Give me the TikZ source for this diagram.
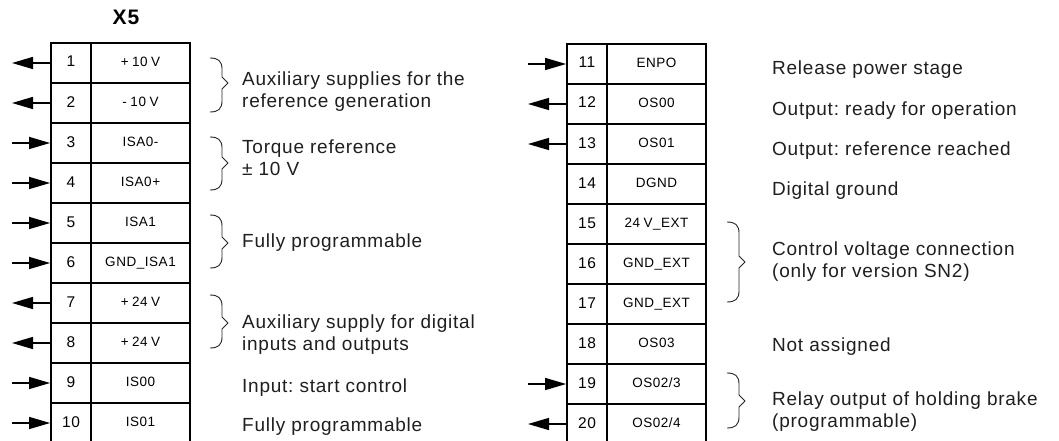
\documentclass[tikz,border=0pt]{standalone}
\usepackage{fontspec}
\setmainfont{Liberation Sans}[LetterSpace=4]
\usetikzlibrary{arrows.meta}
\frenchspacing
\newcommand\gp{\hspace{3.5pt}}
\tikzset{
  cellnum/.style={draw, line width=1.8pt, minimum width=40pt, minimum height=40pt, inner sep=0pt,
    font=\fontsize{15.5}{16}\selectfont, text height=8pt, text depth=0pt},
  cellsig/.style={draw, line width=1.8pt, minimum width=99pt, minimum height=40pt, inner sep=0pt,
    font=\fontsize{13.5}{15}\selectfont, text height=7pt, text depth=0pt},
  pinarrow/.style={line width=1.4pt, -{Triangle[length=21pt,width=12pt]}},
  desc/.style={anchor=base west, inner sep=0pt, font=\fontsize{19}{22}\selectfont\frenchspacing, text=black!88},
  bracestyle/.style={line width=0.9pt, line join=round, draw=black!85},
}
\newcommand\drawbrace[4]{% x, ytop, ytip, ybot
  \draw[bracestyle] (#1,#2) .. controls (#1+8,#2) and (#1+12,#2+3) .. (#1+12,#2+11)
    -- (#1+12,#3-6) -- (#1+18,#3) -- (#1+12,#3+6) -- (#1+12,#4-11)
    .. controls (#1+12,#4-3) and (#1+8,#4) .. (#1,#4);}
\begin{document}
\begin{tikzpicture}[x=1pt,y=-1pt]
\useasboundingbox (0,0) rectangle (1059,441);
\fill[white] (0,0) rectangle (1059,441);

% title
\node[anchor=base, inner sep=0pt, font=\fontsize{21}{22}\selectfont\bfseries] (title) at (126,25) {X5};

% left connector rows
\foreach \i/\s in {1/{+\gp10\gp V}, 2/{-\gp10\gp V}, 3/{ISA0-}, 4/{ISA0+}, 5/{ISA1}, 6/{GND\_ISA1},
                   7/{+\gp24\gp V}, 8/{+\gp24\gp V}, 9/{IS00}, 10/{IS01}} {
  \node[cellnum] (n\i) at (71, 63+40*\i-40) {\i};
  \node[cellsig] (s\i) at (140.5, 63+40*\i-40) {\s};
  \coordinate (e\i) at (12, 63+40*\i-40);
}
% right connector rows
\foreach \i/\s in {11/{ENPO}, 12/{OS00}, 13/{OS01}, 14/{DGND}, 15/{24\gp V\_EXT}, 16/{GND\_EXT},
                   17/{GND\_EXT}, 18/{OS03}, 19/{OS02/3}, 20/{OS02/4}} {
  \node[cellnum] (n\i) at (587, 64+40*\i-440) {\i};
  \node[cellsig] (s\i) at (656.5, 64+40*\i-440) {\s};
  \coordinate (e\i) at (528, 64+40*\i-440);
}

% arrows: outputs (pointing away) and inputs (pointing into the connector)
\foreach \i in {1,2,7,8,12,13,20} \draw[pinarrow] (n\i.west) -- (e\i);
\foreach \i in {3,4,5,6,9,10,11,19} \draw[pinarrow] (e\i) -- (n\i.west);

% braces
\drawbrace{210}{58}{83}{112}
\drawbrace{210}{137}{163}{190}
\drawbrace{210}{215}{243}{268}
\drawbrace{210}{295}{323}{348}
\drawbrace{727}{222}{262}{302}
\drawbrace{727}{373}{401}{428}

% left descriptions
\node[desc] (d1a) at (242,86) {Auxiliary supplies for the};
\node[desc] (d1b) at (242,108) {reference generation};
\node[desc] (d2a) at (242,153) {Torque reference};
\node[desc] (d2b) at (242,175) {± 10 V};
\node[desc] (d3) at (242,247) {Fully programmable};
\node[desc] (d4a) at (242,328) {Auxiliary supply for digital};
\node[desc] (d4b) at (242,350) {inputs and outputs};
\node[desc] (d5) at (242,392) {Input: start control};
\node[desc] (d6) at (242,431) {Fully programmable};

% right descriptions
\node[desc] (r1) at (772,75) {Release power stage};
\node[desc] (r2) at (772,115) {Output: ready for operation};
\node[desc] (r3) at (772,155) {Output: reference reached};
\node[desc] (r4) at (772,195) {Digital ground};
\node[desc] (r5a) at (772,255) {Control voltage connection};
\node[desc] (r5b) at (772,277) {(only for version SN2)};
\node[desc] (r6) at (772,351) {Not assigned};
\node[desc] (r7a) at (772,405) {Relay output of holding brake};
\node[desc] (r7b) at (772,427) {(programmable)};
\end{tikzpicture}
\end{document}
